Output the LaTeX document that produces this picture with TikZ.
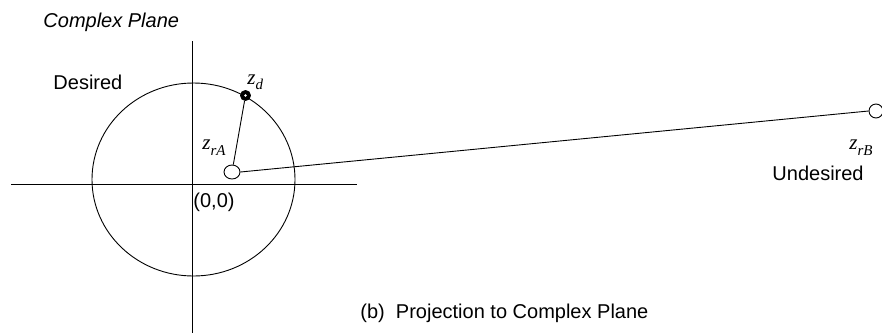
\documentclass[tikz,border=0pt]{standalone}
\usepackage{fontspec}
\setmainfont{Liberation Serif}
\setsansfont{Liberation Sans}
\usetikzlibrary{shapes.geometric}
\begin{document}
\begin{tikzpicture}[x=1pt,y=-1pt,line width=0.9pt,
  lbl/.style={font=\sffamily\fontsize{20}{24}\selectfont,inner sep=0pt},
  mth/.style={font=\rmfamily\fontsize{21}{24}\selectfont,inner sep=0pt},
  hollow/.style={draw,fill=white,ellipse,inner sep=0pt},
  solid dot/.style={draw,fill=black,circle,inner sep=0pt,minimum size=10pt}]
\useasboundingbox (0,0) rectangle (882,335);
% axes
\coordinate (xl) at (11,184);
\coordinate (xr) at (357,184);
\coordinate (yt) at (192,41);
\coordinate (yb) at (192,333);
\draw (xl) -- (xr);
\draw (yt) -- (yb);
% circle
\draw (193.5,179.5) ellipse [x radius=101.5, y radius=96.5];
% points
\node[solid dot] (zd) at (245.5,95.5) {};
\fill[white] (zd.center) circle (1.3);
\node[hollow,minimum width=16pt,minimum height=14pt] (zra) at (232,172) {};
\node[hollow,circle,minimum size=14pt] (zrb) at (876,111) {};
\draw (zd) -- (zra);
\draw (zra.east) -- (zrb.west);
% labels
\node[lbl,anchor=west,font=\sffamily\itshape\fontsize{20}{24}\selectfont] (title) at (43,22) {Complex Plane};
\node[lbl,anchor=west] (des) at (53,82) {Desired};
\node[lbl,anchor=west] (und) at (772,173) {Undesired};
\node[lbl,anchor=west] (orig) at (193,202) {(0,0)};
\node[lbl,anchor=west] (cap) at (360,313) {(b)\ \ Projection to Complex Plane};
\node[mth,anchor=base west] (lzd) at (247,84) {\textit{z}\raisebox{-5pt}{\fontsize{15}{17}\selectfont\textit{d}}};
\node[mth,anchor=base west] (lzra) at (202,149) {\textit{z}\raisebox{-6pt}{\fontsize{15}{17}\selectfont\textit{rA}}};
\node[mth,anchor=base west] (lzrb) at (849,149) {\textit{z}\raisebox{-6pt}{\fontsize{15}{17}\selectfont\textit{rB}}};
\end{tikzpicture}
\end{document}
